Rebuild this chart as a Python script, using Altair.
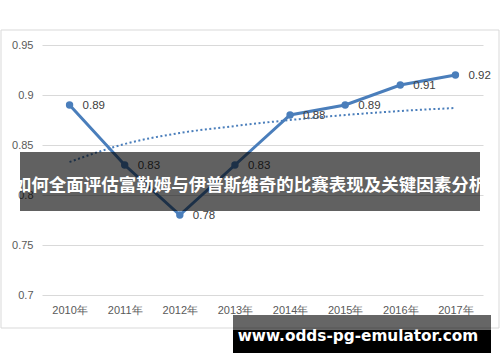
import altair as alt
import pandas as pd

years = ["2010年", "2011年", "2012年", "2013年", "2014年", "2015年", "2016年", "2017年"]
values = [0.89, 0.83, 0.78, 0.83, 0.88, 0.89, 0.91, 0.92]
trend = [0.833, 0.851, 0.862, 0.869, 0.875, 0.880, 0.884, 0.887]
y_ticks = [0.7, 0.75, 0.8, 0.85, 0.9, 0.95]
banner_text = "如何全面评估富勒姆与伊普斯维奇的比赛表现及关键因素分析"
url_text = "www.odds-pg-emulator.com"

df = pd.DataFrame({"year": years, "value": values, "trend": trend,
                   "label": [f"{v:.2f}" for v in values]})

BLUE = "#4a7ebb"
FONT = "Liberation Sans"

x = alt.X("year:O", sort=years, title=None,
          scale=alt.Scale(type="point", padding=0.5),
          axis=alt.Axis(labelAngle=0, domain=False, ticks=False, grid=False,
                        labelPadding=9, labelFontSize=11, labelColor="#595959",
                        labelFont=FONT))
yscale = alt.Scale(domain=[0.7, 0.95], nice=False, zero=False)
yaxis = alt.Axis(values=y_ticks, format=".2~f", domain=False, ticks=False,
                 gridColor="#d9d9d9", gridWidth=1, labelPadding=9,
                 labelFontSize=11, labelColor="#595959", labelFont=FONT)

one = alt.Data(values=[{}])

border = alt.Chart(one).mark_rect(fill="transparent", stroke="#d9d9d9", strokeWidth=1).encode(
    x=alt.value(-41), x2=alt.value(457), y=alt.value(-15), y2=alt.value(283))

base = alt.Chart(df)
trend_line = base.mark_line(color=BLUE, strokeWidth=2, strokeDash=[2, 2.5],
                            interpolate="monotone").encode(
    x=x, y=alt.Y("trend:Q", scale=yscale, axis=yaxis, title=None))
line = base.mark_line(color=BLUE, strokeWidth=3).encode(
    x=x, y=alt.Y("value:Q", scale=yscale, title=None))
points = base.mark_circle(color=BLUE, size=55, opacity=1).encode(
    x=x, y=alt.Y("value:Q", scale=yscale))
labels = base.mark_text(align="left", baseline="middle", dx=13, dy=1,
                        fontSize=11.5, font=FONT, color="#404040").encode(
    x=x, y=alt.Y("value:Q", scale=yscale), text="label:N")

banner = alt.Chart(one).mark_rect(color="black", opacity=0.62).encode(
    x=alt.value(-22), x2=alt.value(438), y=alt.value(107), y2=alt.value(166))
banner_t = alt.Chart(one).mark_text(text=banner_text, font="Noto Sans CJK SC",
                                    fontWeight="bold", fontSize=17.5, color="white",
                                    align="center", baseline="middle").encode(
    x=alt.value(208), y=alt.value(141))
gray_box = alt.Chart(one).mark_rect(color="black", opacity=0.6).encode(
    x=alt.value(191), x2=alt.value(449), y=alt.value(270), y2=alt.value(285))
black_box = alt.Chart(one).mark_rect(color="black", opacity=1).encode(
    x=alt.value(191), x2=alt.value(449), y=alt.value(285), y2=alt.value(308))
url_t = alt.Chart(one).mark_text(text=url_text, font="DejaVu Sans",
                                 fontWeight="bold", fontSize=15.3, color="white",
                                 align="center", baseline="middle").encode(
    x=alt.value(316), y=alt.value(291))

chart = alt.layer(border, trend_line, line, points, labels, banner, banner_t,
                  gray_box, black_box, url_t).properties(
    width=441, height=250,
    autosize=alt.AutoSizeParams(type="none"),
    padding={"left": 42, "top": 45, "right": 17, "bottom": 67},
    background="white",
).configure_view(stroke=None)

chart.save("out.html", embed_options={"renderer": "svg", "actions": False})
